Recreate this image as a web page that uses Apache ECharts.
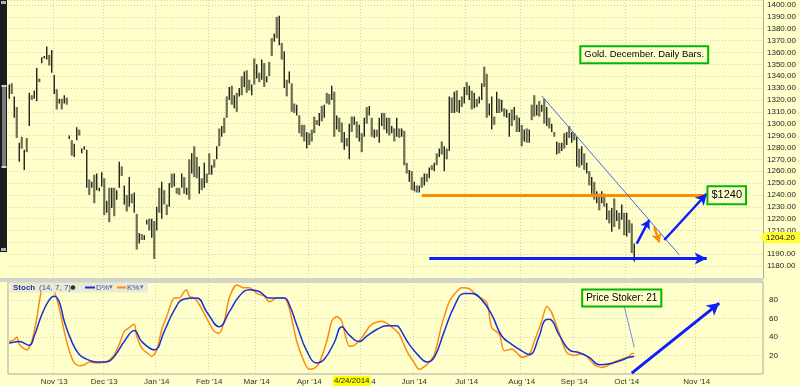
<!DOCTYPE html>
<html><head><meta charset="utf-8">
<script src="https://cdn.jsdelivr.net/npm/echarts@6/dist/echarts.min.js"></script>
<style>html,body{margin:0;padding:0;background:#ffffcc;}#c{width:800px;height:386px;}</style>
</head><body><div id="c"></div>
<script>
// ---------- data ----------
const totalSlots = 302;               // trading-day slots across the plot (incl. future space)
const monthStartIdx = [18, 38, 59, 80, 99, 120, 141, 162, 183, 205, 226, 247, 275];
const monthLabels = ["Nov '13","Dec '13","Jan '14","Feb '14","Mar '14","Apr '14","May '14","Jun '14","Jul '14","Aug '14","Sep '14","Oct '14","Nov '14"];
const highs = [
1333,1334,1323,1314,1284,1289,1278,1288,1326,1324,1328,1347,1338,1356,1357,1365,1358,1362,1341,1329,
1321,1321,1324,1322,1290,1286,1283,1297,1295,1279,1281,1278,1253,1251,1257,1258,1246,1259,1254,1235,
1246,1246,1246,1244,1268,1264,1248,1240,1255,1241,1242,1224,1208,1207,1206,1219,1220,1220,1218,1230,
1246,1251,1244,1232,1250,1258,1258,1246,1246,1258,1255,1246,1270,1275,1281,1272,1264,1254,1267,1258,
1275,1265,1270,1281,1296,1298,1305,1323,1331,1332,1324,1326,1330,1340,1344,1345,1337,1333,1355,1350,
1343,1354,1351,1340,1352,1372,1376,1390,1391,1368,1361,1337,1344,1334,1317,1316,1307,1299,1299,1293,
1292,1295,1306,1303,1309,1315,1316,1326,1325,1332,1327,1307,1305,1301,1293,1288,1300,1306,1306,1302,
1299,1292,1305,1314,1315,1305,1295,1295,1305,1309,1309,1305,1305,1298,1296,1305,1296,1296,1294,1267,
1261,1260,1251,1248,1248,1255,1258,1258,1263,1265,1267,1275,1279,1285,1281,1279,1323,1322,1327,1328,
1320,1323,1331,1335,1332,1328,1326,1321,1323,1334,1348,1342,1317,1323,1306,1327,1321,1320,1313,1312,
1309,1312,1314,1307,1305,1299,1295,1296,1295,1316,1324,1316,1319,1316,1321,1314,1305,1300,1293,1285,
1284,1284,1292,1293,1298,1293,1292,1289,1279,1281,1275,1267,1260,1255,1251,1243,1241,1243,1241,1233,
1227,1229,1237,1227,1225,1232,1225,1225,1219,1216,1199];
const lows = [
1321,1325,1305,1288,1268,1279,1261,1276,1298,1320,1321,1319,1335,1351,1355,1354,1349,1343,1325,1312,
1317,1312,1317,1316,1287,1273,1272,1286,1290,1275,1278,1246,1240,1246,1233,1244,1243,1247,1223,1225,
1217,1229,1222,1236,1246,1256,1232,1226,1230,1233,1225,1194,1199,1202,1202,1215,1210,1204,1186,1210,
1225,1220,1232,1223,1230,1246,1247,1241,1240,1246,1241,1240,1236,1258,1255,1254,1241,1244,1246,1250,
1257,1257,1263,1270,1281,1289,1292,1305,1320,1316,1313,1310,1323,1324,1331,1326,1328,1324,1333,1338,
1335,1337,1331,1335,1340,1357,1369,1372,1366,1354,1330,1323,1334,1310,1309,1307,1292,1289,1285,1279,
1282,1285,1292,1299,1298,1302,1305,1317,1316,1320,1289,1295,1293,1284,1278,1281,1270,1293,1299,1288,
1285,1276,1289,1300,1307,1289,1288,1289,1284,1298,1295,1292,1290,1292,1285,1289,1288,1289,1265,1258,
1251,1244,1243,1242,1242,1246,1248,1251,1254,1261,1260,1265,1272,1274,1260,1270,1277,1309,1309,1310,
1309,1314,1317,1324,1320,1312,1313,1314,1317,1320,1331,1305,1307,1295,1299,1309,1309,1310,1306,1305,
1289,1298,1303,1293,1293,1281,1285,1284,1284,1303,1306,1307,1306,1310,1300,1298,1296,1293,1289,1274,
1275,1277,1279,1282,1288,1284,1286,1264,1263,1265,1261,1258,1248,1241,1236,1233,1227,1233,1230,1219,
1216,1209,1213,1218,1211,1219,1206,1205,1208,1191,1184];
const upBar = [
1,0,1,0,1,0,1,0,1,0,1,1,0,1,1,1,0,1,1,0,
1,0,1,0,1,0,1,1,0,1,1,1,0,1,0,1,1,1,0,1,
0,1,0,1,1,0,1,0,1,0,1,0,1,0,1,1,0,1,0,1,
0,1,0,0,1,0,1,0,0,1,0,1,0,1,0,0,1,0,1,0,
0,1,0,1,0,1,0,0,1,0,1,0,1,0,1,0,0,1,0,1,
0,1,0,1,0,0,1,0,1,0,1,0,1,0,0,1,0,0,0,1,
0,0,0,0,1,0,1,0,0,1,0,1,0,0,1,0,1,0,1,0,
1,0,1,0,1,0,1,0,1,1,0,1,0,1,0,1,0,1,0,0,
1,0,1,0,1,0,1,0,1,0,1,0,1,0,1,0,1,0,1,0,
1,0,1,0,1,0,1,0,1,1,0,0,1,1,0,1,0,1,0,1,
1,0,1,0,1,0,1,0,1,0,0,1,0,1,0,1,0,1,0,1,
0,1,0,1,0,1,0,1,0,1,0,1,0,1,0,1,0,1,0,1,
0,1,0,1,0,1,0,1,0,0,1];
const kPoints = [[0,35],[2,37],[3,40],[4,32],[7,26],[9,35],[11,60],[13,91],[15,93],[16,93],[18,89],[20,71],[22,46],[24,25],[26,12],[28,9],[30,10],[32,13],[35,12],[38,13],[40,15],[42,21],[44,32],[46,46],[48,50],[50,54],[51,41],[53,28],[55,23],[57,19],[59,26],[61,48],[63,62],[66,82],[68,82],[70,89],[71,91],[72,84],[74,82],[76,75],[79,60],[82,46],[84,44],[86,57],[88,82],[91,96],[94,93],[96,93],[99,87],[102,84],[104,78],[107,82],[110,82],[112,71],[115,35],[118,13],[120,5],[122,6],[124,12],[127,35],[129,57],[131,62],[133,57],[136,30],[138,31],[141,39],[144,51],[146,55],[149,57],[152,53],[155,46],[156,43],[159,25],[162,12],[164,5],[167,10],[170,21],[173,53],[176,78],[179,89],[181,93],[184,92],[187,85],[191,77],[193,50],[196,43],[198,25],[201,27],[203,23],[205,18],[208,21],[210,35],[213,57],[215,73],[217,66],[220,44],[223,23],[226,20],[229,22],[231,19],[234,10],[237,7],[240,10],[242,13],[245,16],[248,19],[249,22],[250,22]];
const dPoints = [[0,33],[1,34],[4,35],[8,31],[10,41],[13,64],[16,80],[18,84],[20,78],[22,57],[25,35],[28,21],[31,16],[35,13],[39,13],[42,19],[46,35],[50,47],[53,35],[58,26],[62,46],[66,69],[70,81],[75,82],[79,67],[84,51],[88,67],[92,84],[96,91],[100,89],[104,82],[110,82],[112,75],[115,53],[119,25],[123,12],[126,16],[130,34],[133,51],[136,42],[140,35],[143,41],[147,48],[151,52],[155,52],[156,50],[160,32],[164,19],[167,13],[170,18],[174,46],[178,73],[182,87],[185,87],[189,80],[193,64],[197,41],[201,32],[205,25],[208,21],[212,41],[214,57],[216,59],[220,42],[224,26],[228,23],[232,18],[236,10],[240,11],[244,14],[248,18],[250,19]];
const lastPrice = 1204.20;
const cursorIdx = 137;
const cursorText = '4/24/2014';
const resistance = 1240;
const supportLevel = 1186.5;
// ---------- chart ----------
const FONT = 'Liberation Sans, Arial, sans-serif';
const GRID_C = '#d6d4a8';
const cats = Array.from({length: totalSlots}, (_, i) => String(i));
const labelAt = {};
monthStartIdx.forEach((idx, k) => { labelAt[idx] = monthLabels[k]; });
const isMonth = (i) => labelAt[i] !== undefined;

const chart = echarts.init(document.getElementById('c'), null, {renderer: 'canvas'});

function boxLabel(text, size) {
  return {show: true, position: 'inside', formatter: text, color: '#000', fontSize: size, fontFamily: FONT,
    backgroundColor: '#ffffcc', borderColor: '#00b800', borderWidth: 2, padding: [3, 3, 2, 3]};
}
const BLUE = '#0f1eff';

const option = {
  animation: false,
  backgroundColor: '#ffffcc',
  grid: [
    {left: 8, right: 37, top: 0, height: 278, show: false},
    {left: 8, right: 37, top: 282, height: 92.7, show: true, borderColor: '#a9a9a0', borderWidth: 1, backgroundColor: 'transparent'}
  ],
  xAxis: [
    {type: 'category', gridIndex: 0, data: cats, boundaryGap: true,
     axisLine: {show: true, lineStyle: {color: '#a9a9a0'}}, axisTick: {show: false},
     axisLabel: {show: false, interval: (i) => isMonth(i)},
     splitLine: {show: true, interval: (i) => isMonth(i), lineStyle: {color: GRID_C, type: [1, 2], width: 1}}},
    {type: 'category', gridIndex: 1, data: cats, boundaryGap: true,
     axisLine: {show: false}, axisTick: {show: false},
     axisLabel: {show: true, interval: (i) => isMonth(i), formatter: (v, i) => labelAt[i] || '',
       fontSize: 8, color: '#333', fontFamily: FONT, margin: 4},
     splitLine: {show: true, interval: (i) => isMonth(i), lineStyle: {color: GRID_C, type: [1, 2], width: 1}}}
  ],
  yAxis: [
    {type: 'value', gridIndex: 0, position: 'right', min: 1170, max: 1404.2, interval: 10,
     axisLine: {show: true, lineStyle: {color: '#a9a9a0'}}, axisTick: {show: false},
     axisLabel: {fontSize: 8, color: '#222', fontFamily: FONT, margin: 4, showMaxLabel: false,
       formatter: (v) => (v >= 1175 && v <= 1400.5 && Math.abs(v - 1200) > 0.5) ? v.toFixed(2) : ''},
     splitLine: {show: true, lineStyle: {color: GRID_C, type: [1, 2], width: 1}}},
    {type: 'value', gridIndex: 1, position: 'right', min: 0, max: 99.3, interval: 20,
     axisLine: {show: false}, axisTick: {show: false},
     axisLabel: {fontSize: 8, color: '#222', fontFamily: FONT, margin: 6,
       formatter: (v) => (v >= 20 && v <= 80) ? String(v) : ''},
     splitLine: {show: true, lineStyle: {color: GRID_C, type: [1, 2], width: 1}}}
  ],
  series: [
    {
      type: 'custom', xAxisIndex: 0, yAxisIndex: 0, clip: true,
      data: highs.map((h, i) => [i, h, lows[i], upBar[i]]),
      encode: {x: 0, y: [1, 2]},
      renderItem: function (params, api) {
        const i = api.value(0);
        const p1 = api.coord([i, api.value(1)]);
        const p2 = api.coord([i, api.value(2)]);
        const up = api.value(3) === 1;
        const w = up ? 1.3 : 2.2;
        return {type: 'rect', shape: {x: p1[0] - w / 2, y: p1[1], width: w, height: Math.max(1, p2[1] - p1[1])},
          style: {fill: up ? '#111111' : '#6e6e52'}};
      },
      markLine: {
        silent: true, animation: false, symbolSize: 10, label: {show: false},
        data: [
          [{coord: [165, resistance], symbol: 'none', lineStyle: {color: '#ff8c00', width: 3, type: 'solid'}}, {coord: [280, resistance], symbol: 'none'}],
          [{coord: [168, supportLevel], symbol: 'none', lineStyle: {color: BLUE, width: 3, type: 'solid'}}, {coord: [279, supportLevel], symbol: 'arrow', symbolSize: [9, 12]}],
          [{coord: [213, 1323.4], symbol: 'none', lineStyle: {color: '#3d6cf5', width: 1, type: 'solid'}}, {coord: [268, 1189.5], symbol: 'none'}],
          [{coord: [251, 1199], symbol: 'none', lineStyle: {color: BLUE, width: 2.5, type: 'solid'}}, {coord: [256, 1219], symbol: 'arrow', symbolSize: [8, 9]}],
          [{coord: [258, 1213], symbol: 'none', lineStyle: {color: '#ff8c00', width: 2.5, type: 'solid'}}, {coord: [260, 1200], symbol: 'arrow', symbolSize: [8, 9]}],
          [{coord: [262, 1202], symbol: 'none', lineStyle: {color: BLUE, width: 2.5, type: 'solid'}}, {coord: [279, 1241], symbol: 'arrow', symbolSize: [9, 11]}]
        ]
      },
      markPoint: {
        silent: true, animation: false, symbol: 'rect', symbolSize: 0,
        data: [
          {coord: [254, 1358.1], label: boxLabel('Gold. December. Daily Bars.', 9.5)},
          {coord: [287, 1239.7], label: boxLabel('$1240', 11)}
        ]
      }
    },
    {
      name: 'K%', type: 'line', xAxisIndex: 1, yAxisIndex: 1, data: kPoints, showSymbol: false, smooth: 0.25,
      lineStyle: {color: '#ff8a10', width: 1.5}, z: 3,
      markLine: {
        silent: true, animation: false, label: {show: false}, symbolSize: 10,
        data: [
          [{coord: [249, 1], symbol: 'none', lineStyle: {color: BLUE, width: 3, type: 'solid'}}, {coord: [284, 76.5], symbol: 'arrow', symbolSize: [10, 12]}],
          [{coord: [246, 73], symbol: 'none', lineStyle: {color: '#6b8fe8', width: 1, type: 'solid'}}, {coord: [250, 29], symbol: 'none'}]
        ]
      },
      markPoint: {
        silent: true, animation: false, symbol: 'rect', symbolSize: 0,
        data: [{coord: [245, 81.9], label: boxLabel('Price Stoker: 21', 10)}]
      }
    },
    {
      name: 'D%', type: 'line', xAxisIndex: 1, yAxisIndex: 1, data: dPoints, showSymbol: false, smooth: 0.45,
      lineStyle: {color: '#1530d8', width: 1.5}, z: 4
    }
  ]
};
chart.setOption(option);

// overlays positioned through the chart's own scales
const yTag = chart.convertToPixel({yAxisIndex: 0}, lastPrice);
const xCur = chart.convertToPixel({xAxisIndex: 1}, cursorIdx);
const legendY = 287.5;
chart.setOption({
  graphic: [
    // left scroll bar
    {type: 'rect', shape: {x: 0, y: 0, width: 7, height: 252}, style: {fill: '#1b1b1b'}, z: 100},
    {type: 'rect', shape: {x: 2, y: 86, width: 4, height: 81}, style: {fill: '#7a7a7a'}, z: 101},
    {type: 'rect', shape: {x: 1.5, y: 85, width: 5, height: 2}, style: {fill: '#d0d0d0'}, z: 102},
    {type: 'rect', shape: {x: 1.5, y: 166, width: 5, height: 2}, style: {fill: '#d0d0d0'}, z: 102},
    {type: 'rect', shape: {x: 1, y: 1, width: 5, height: 3}, style: {fill: '#b0b0b0'}, z: 102},
    {type: 'rect', shape: {x: 1, y: 248, width: 5, height: 3}, style: {fill: '#b0b0b0'}, z: 102},
    // separator band between panels
    {type: 'rect', shape: {x: 0, y: 278, width: 763, height: 4}, style: {fill: '#d3d3cc'}, z: 90},
    // stoch legend
    {type: 'rect', shape: {x: 10, y: 282.5, width: 138, height: 10}, style: {fill: '#ebead2'}, z: 100},
    {type: 'text', x: 13, y: legendY, style: {text: 'Stoch', fontSize: 8, fontWeight: 'bold', fontFamily: FONT, fill: '#23399a', verticalAlign: 'middle'}, z: 101},
    {type: 'text', x: 39, y: legendY, style: {text: '(14, 7, 7)', fontSize: 8, fontFamily: FONT, fill: '#3550b0', verticalAlign: 'middle'}, z: 101},
    {type: 'circle', shape: {cx: 73, cy: legendY, r: 2.3}, style: {fill: '#333', stroke: null}, z: 101},
    {type: 'line', shape: {x1: 85, y1: legendY, x2: 95, y2: legendY}, style: {stroke: '#1530d8', lineWidth: 2}, z: 101},
    {type: 'text', x: 96, y: legendY, style: {text: 'D%', fontSize: 8, fontFamily: FONT, fill: '#3550b0', verticalAlign: 'middle'}, z: 101},
    {type: 'text', x: 109, y: legendY, style: {text: '▾', fontSize: 7, fontFamily: FONT, fill: '#5070c0', verticalAlign: 'middle'}, z: 101},
    {type: 'line', shape: {x1: 117, y1: legendY, x2: 126, y2: legendY}, style: {stroke: '#ff8a10', lineWidth: 2}, z: 101},
    {type: 'text', x: 127, y: legendY, style: {text: 'K%', fontSize: 8, fontFamily: FONT, fill: '#3550b0', verticalAlign: 'middle'}, z: 101},
    {type: 'text', x: 140, y: legendY, style: {text: '▾', fontSize: 7, fontFamily: FONT, fill: '#5070c0', verticalAlign: 'middle'}, z: 101},
    // last price tag
    {type: 'polygon', shape: {points: [[760, yTag], [765, yTag - 5.5], [800, yTag - 5.5], [800, yTag + 5.5], [765, yTag + 5.5]]}, style: {fill: '#ffff33'}, z: 100},
    {type: 'text', x: 766, y: yTag, style: {text: lastPrice.toFixed(2), fontSize: 8, fontFamily: FONT, fill: '#111', verticalAlign: 'middle'}, z: 101},
    // cursor date
    {type: 'text', x: xCur, y: 381, style: {text: cursorText, fontSize: 8, fontFamily: FONT, fill: '#222', align: 'center', verticalAlign: 'middle', backgroundColor: '#ffff00', padding: [1, 1, 1, 1]}, z: 100}
  ]
});
</script></body></html>
